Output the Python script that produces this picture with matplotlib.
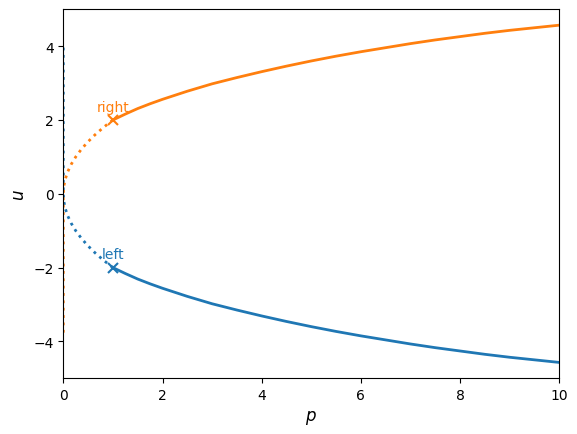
import matplotlib
matplotlib.use("Agg")
import matplotlib.pyplot as plt

# stable branches (solid); left branch is the mirror image
p_stable = [1.0, 1.25, 1.5, 1.75, 2.0, 2.5, 3.0, 3.5, 4.0, 4.5, 5.0, 5.5, 6.0,
            6.5, 7.0, 7.5, 8.0, 8.5, 9.0, 9.5, 10.0]
u_right_stable = [2.00, 2.16, 2.31, 2.44, 2.56, 2.78, 2.98, 3.15, 3.31, 3.46, 3.60,
                  3.73, 3.85, 3.96, 4.07, 4.17, 4.26, 4.35, 4.43, 4.50, 4.57]
u_left_stable = [-u for u in u_right_stable]

# unstable parts (dotted): from the start point back to p=0, then along p=0
p_right_unstable = [1.0, 0.81, 0.64, 0.49, 0.36, 0.25, 0.16, 0.09, 0.04, 0.01, 0.0, 0.0]
u_right_unstable = [2.0, 1.8, 1.6, 1.4, 1.2, 1.0, 0.8, 0.6, 0.4, 0.2, 0.0, -3.85]
p_left_unstable = p_right_unstable
u_left_unstable = [-u for u in u_right_unstable[:-1]] + [4.0]

# starting points
start_p = [1.0, 1.0]
start_u = [-2.0, 2.0]
start_labels = ["left", "right"]
colors = ["C0", "C1"]

fig = plt.figure(figsize=(5.77, 4.35), dpi=100)
ax = fig.add_axes([63.3 / 577, 1 - 379.3 / 435, 496 / 577, 369 / 435])

ax.plot(p_left_unstable, u_left_unstable, ":", color=colors[0], lw=2)
ax.plot(p_stable, u_left_stable, "-", color=colors[0], lw=2)
ax.plot(p_right_unstable, u_right_unstable, ":", color=colors[1], lw=2)
ax.plot(p_stable, u_right_stable, "-", color=colors[1], lw=2)

for p, u, lab, c in zip(start_p, start_u, start_labels, colors):
    ax.plot(p, u, "x", color=c, ms=7, mew=1.5)
    ax.text(p, u + 0.25, lab, color=c, ha="center", va="baseline", fontsize=10)

ax.set_xlim(0, 10)
ax.set_ylim(-5, 5)
ax.set_xlabel("$p$", fontsize=12)
ax.set_ylabel("$u$", fontsize=12)

fig.savefig("out.png", dpi=100)
